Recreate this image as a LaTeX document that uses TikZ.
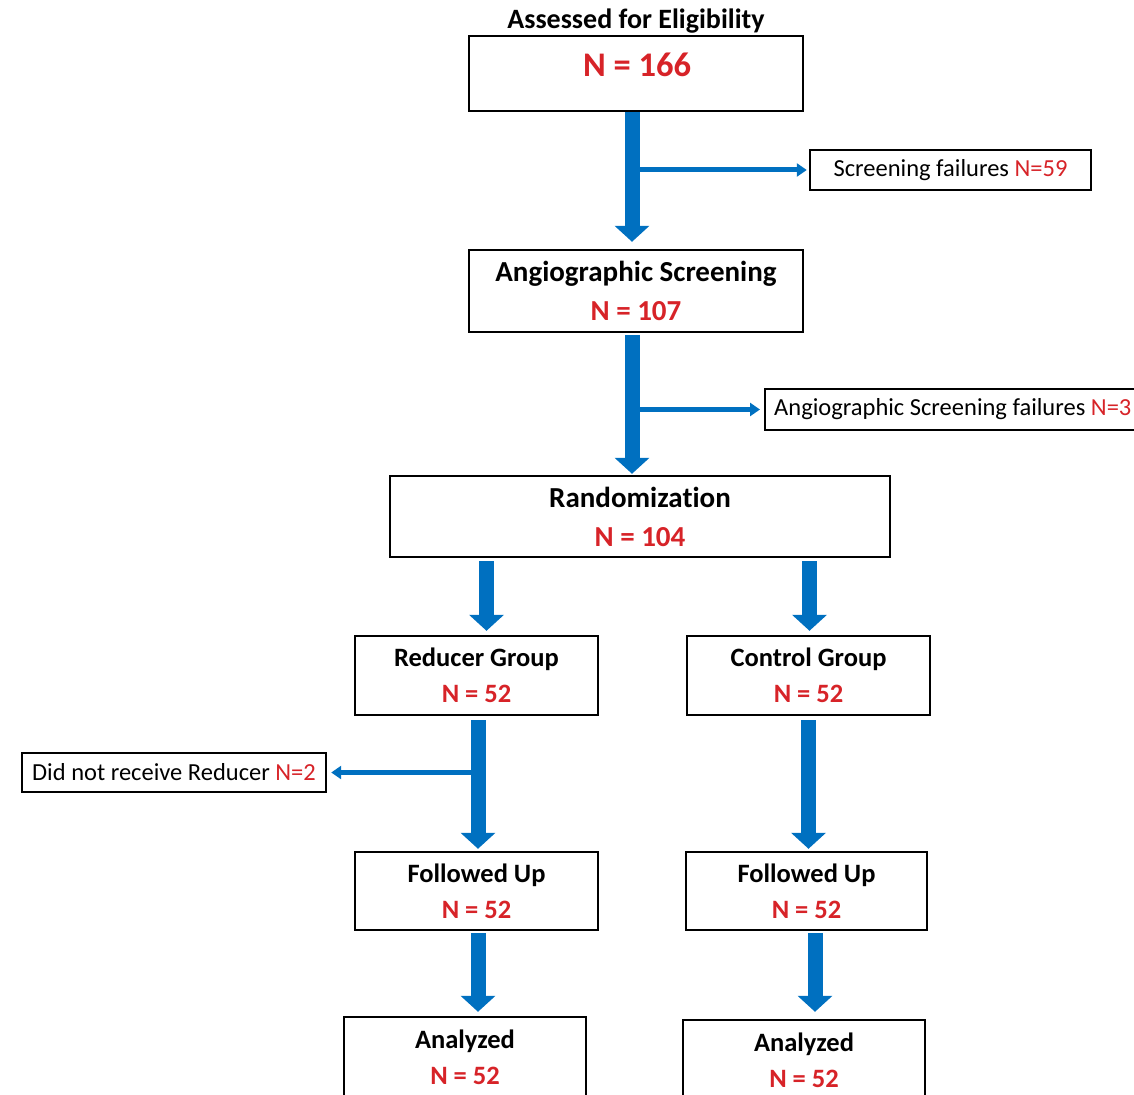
\documentclass[tikz,border=0pt]{standalone}
\usepackage{fontspec}
\setmainfont[Ligatures=NoCommon]{Carlito}
\usetikzlibrary{arrows.meta}
\definecolor{fblue}{RGB}{0,112,192}
\definecolor{fred}{RGB}{215,35,40}
\newcommand{\rn}[1]{\textcolor{fred}{#1}}
\tikzset{
  box/.style={draw=black, line width=2.4pt, inner sep=0pt, align=center, fill=white},
  bigtxt/.style={font=\fontsize{29}{39}\selectfont\bfseries},
  grptxt/.style={font=\fontsize{26.5}{36}\selectfont\bfseries},
  sidetxt/.style={font=\fontsize{24.5}{28}\selectfont},
  bigarrow/.style={draw=fblue, line width=15pt, -{Triangle[width=34pt,length=16pt]}},
  smallarrow/.style={draw=fblue, line width=5pt, -{Triangle[width=13pt,length=10pt]}}
}
\begin{document}
\begin{tikzpicture}[x=1pt,y=-1pt]
\useasboundingbox (0,0) rectangle (1134,1094);
\clip (0,0) rectangle (1134,1094);
% top
\node[font=\fontsize{28}{30}\selectfont\bfseries] (t1) at (636,21) {Assessed for Eligibility};
\node[box, minimum width=334pt, minimum height=75pt] (b1) at (636,73.5) {};
\node[font=\fontsize{34.5}{36}\selectfont\bfseries, text=fred] (n1) at (637,65) {N = 166};
\node[box, sidetxt, minimum width=281pt, minimum height=40pt] (sf) at (950.5,170) {Screening failures \rn{N=59}};
\node[box, bigtxt, minimum width=334pt, minimum height=82pt] (b2) at (636,291) {Angiographic Screening\\ \rn{N = 107}};
\node[box, sidetxt, anchor=west, minimum height=41pt, inner xsep=9pt] (asf) at (764,409.5) {\makebox[366pt][l]{Angiographic Screening failures \rn{N=3}}};
\node[box, bigtxt, minimum width=500pt, minimum height=81pt] (b3) at (640,516.5) {Randomization\\ \rn{N = 104}};
\node[box, grptxt, minimum width=243pt, minimum height=79pt] (rg) at (476.5,675.5) {Reducer Group\\ \rn{N = 52}};
\node[box, grptxt, minimum width=243pt, minimum height=79pt] (cg) at (808.5,675.5) {Control Group\\ \rn{N = 52}};
\node[box, sidetxt, minimum width=304pt, minimum height=39pt] (dnr) at (174,772.5) {Did not receive Reducer \rn{N=2}};
\node[box, grptxt, minimum width=243pt, minimum height=78pt] (fl) at (476.5,891) {Followed Up\\ \rn{N = 52}};
\node[box, grptxt, minimum width=241pt, minimum height=78pt] (fr) at (806.5,891) {Followed Up\\ \rn{N = 52}};
\node[box, minimum width=242pt, minimum height=100pt] (al) at (465,1067) {};
\node[grptxt, align=center] (alt) at (465,1057) {Analyzed\\ \rn{N = 52}};
\node[box, minimum width=242pt, minimum height=100pt] (ar) at (804,1070) {};
\node[grptxt, align=center] (art) at (804,1060) {Analyzed\\ \rn{N = 52}};
% arrows
\draw[bigarrow, shorten >=7pt] ([xshift=-4pt]b1.south) -- ([xshift=-4pt]b2.north);
\draw[smallarrow, shorten >=2pt] ([xshift=-4pt]b1.south |- sf.west) -- (sf.west);
\draw[bigarrow, shorten <=2pt, shorten >=1pt] ([xshift=-4pt]b2.south) -- ([xshift=-4pt]b2.south |- b3.north);
\draw[smallarrow, shorten >=4pt] ([xshift=-4pt]b2.south |- asf.west) -- (asf.west);
\draw[bigarrow, shorten <=3pt, shorten >=4pt] ([xshift=10pt]rg.north |- b3.south) -- ([xshift=10pt]rg.north);
\draw[bigarrow, shorten <=3pt, shorten >=4pt] ([xshift=1pt]cg.north |- b3.south) -- ([xshift=1pt]cg.north);
\draw[bigarrow, shorten <=4pt, shorten >=2pt] ([xshift=1.5pt]rg.south) -- ([xshift=1.5pt]fl.north);
\draw[smallarrow, shorten >=4pt] ([xshift=1.5pt]rg.south |- dnr.east) -- (dnr.east);
\draw[bigarrow, shorten <=4pt, shorten >=2pt] (cg.south) -- (cg.south |- fr.north);
\draw[bigarrow, shorten <=2pt, shorten >=4pt] ([xshift=1.5pt]fl.south) -- ([xshift=1.5pt]fl.south |- al.north);
\draw[bigarrow, shorten <=2pt, shorten >=7pt] ([xshift=8.5pt]fr.south) -- ([xshift=8.5pt]fr.south |- ar.north);
\end{tikzpicture}
\end{document}
